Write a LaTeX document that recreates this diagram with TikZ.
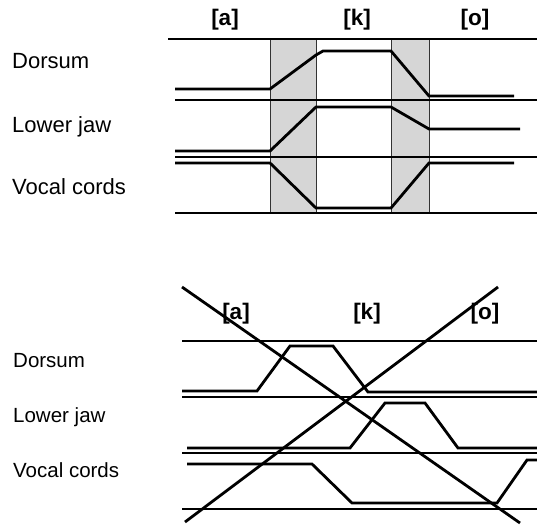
\documentclass[tikz,border=0pt]{standalone}
\usepackage{fontspec}
\setmainfont{Liberation Sans}
\begin{document}
\begin{tikzpicture}[x=1pt,y=-1pt,
  traj/.style={line width=2.8pt, line join=miter},
  rule/.style={line width=2.6pt},
  shade/.style={fill=black!16, draw=black!80, line width=1pt},
  lblA/.style={anchor=base west, inner sep=0pt, font=\fontsize{22}{26}\selectfont},
  lblB/.style={anchor=base west, inner sep=0pt, font=\fontsize{20.5}{24}\selectfont},
  seg/.style={inner sep=0pt, font=\bfseries\fontsize{22.5}{26}\selectfont}]
\useasboundingbox[fill=white] (0,0) rectangle (537,528);
% ---------- top panel ----------
\path[shade] (270,39) rectangle (316,213);
\path[shade] (391,39) rectangle (429,213);
\draw[rule] (168,39) -- (537,39);
\draw[rule] (175,100) -- (537,100);
\draw[rule] (175,157) -- (537,157);
\draw[rule] (175,213) -- (537,213);
\draw[traj] (175,89) -- (270,89) -- (316,55) -- (323,51) -- (391,51) -- (429,96) -- (514,96);
\draw[traj] (175,151) -- (270,151) -- (316,107) -- (391,107) -- (429,129) -- (520,129);
\draw[traj] (175,163) -- (270,163) -- (316,208) -- (391,208) -- (429,163) -- (514,163);
\node[seg] (ta) at (225,19.5) {[a]};
\node[seg] (tk) at (357,19.5) {[k]};
\node[seg] (to) at (475,19.5) {[o]};
\node[lblA] (td) at (12,68) {Dorsum};
\node[lblA] (tl) at (12,132) {Lower jaw};
\node[lblA] (tv) at (12,194) {Vocal cords};
% ---------- bottom panel ----------
\draw[rule] (182,341) -- (537,341);
\draw[rule] (182,397) -- (537,397);
\draw[rule] (182,453) -- (537,453);
\draw[rule] (182,509) -- (537,509);
\draw[traj] (182,391) -- (257,391) -- (290,346) -- (333,346) -- (368,392) -- (537,392);
\draw[traj] (187,448) -- (350,448) -- (385,403) -- (425,403) -- (458,448) -- (537,448);
\draw[traj] (187,464) -- (312,464) -- (352,503) -- (497,503) -- (527,460) -- (537,460);
\draw[traj] (182,287) -- (520,523);
\draw[traj] (185,522) -- (498,287);
\node[seg] (ba) at (236,314) {[a]};
\node[seg] (bk) at (367,314) {[k]};
\node[seg] (bo) at (485,314) {[o]};
\node[lblB] (bd) at (13,367) {Dorsum};
\node[lblB] (bl) at (13,422) {Lower jaw};
\node[lblB] (bv) at (13,477) {Vocal cords};
\end{tikzpicture}
\end{document}
